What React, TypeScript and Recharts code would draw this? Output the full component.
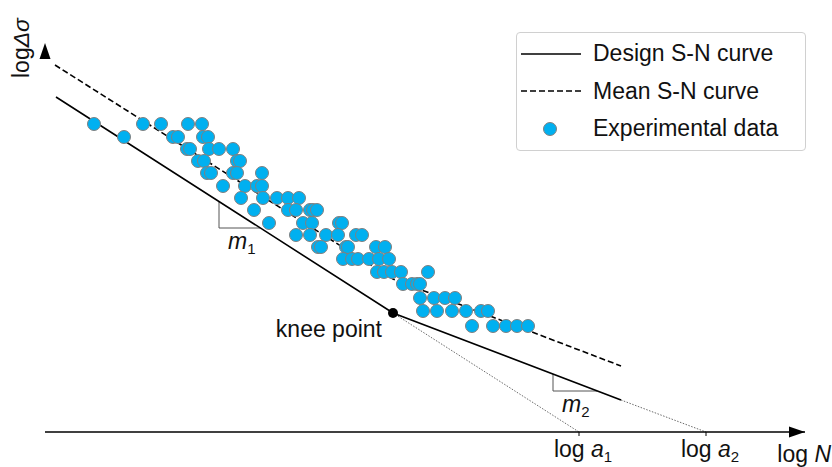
import React from "react";
import { ComposedChart, Line, Scatter, XAxis, YAxis, ReferenceDot, Legend } from "recharts";

const FONT = "'Liberation Sans', Arial, sans-serif";
const FS = 23;
const CYAN = "#00b0f0";

// plot units: n = log N (0..760), s = log Δσ (0..389)
const designCurve = [
  { n: 11, s: 335 },
  { n: 348, s: 119 },
  { n: 576, s: 32 },
];
const meanCurve = [
  { n: 10, s: 367 },
  { n: 348, s: 153 },
  { n: 576, s: 66 },
];
const extensionA1 = [
  { n: 348, s: 119 },
  { n: 534, s: 0 },
];
const extensionA2 = [
  { n: 576, s: 32 },
  { n: 661, s: 0 },
];
const slopeM1 = [
  { n: 174, s: 230 },
  { n: 174, s: 204 },
  { n: 215, s: 204 },
];
const slopeM2 = [
  { n: 508, s: 58 },
  { n: 508, s: 41 },
  { n: 552, s: 41 },
];
const knee = { n: 348, s: 119 };
const xTicks = [534, 661];
const xTickSubs: Record<number, string> = { 534: "1", 661: "2" };

// experimental points, one stress level per row
const expStress = [308, 295, 283, 271, 259, 246, 234, 222, 209, 197, 185, 173, 160, 148, 134, 121, 106];
const expCycles = [
  [49, 98, 116, 143, 157],
  [79, 128, 133, 158, 163],
  [142, 145, 164, 174, 188],
  [153, 159, 192, 195],
  [162, 166, 188, 192, 217],
  [178, 200, 212, 217],
  [196, 218, 232, 243, 254],
  [209, 243, 251, 265, 268, 272],
  [224, 258, 267, 294, 297],
  [251, 265, 281, 293, 311, 317],
  [273, 276, 301, 303, 331, 340],
  [298, 307, 313, 324, 334, 344],
  [332, 339, 347, 356, 383],
  [358, 367, 372, 375],
  [375, 389, 400, 410],
  [378, 392, 407, 421, 436, 443],
  [427, 448, 461, 472, 483],
];
const expData = expStress.flatMap((s, i) => expCycles[i].map((n) => ({ n, s })));

const legendItems = [
  { label: "Design S-N curve", kind: "solid" },
  { label: "Mean S-N curve", kind: "dashed" },
  { label: "Experimental data", kind: "dot" },
];

function LegendBox() {
  return (
    <div
      style={{
        border: "1px solid #d0d0d0",
        borderRadius: 4,
        background: "#fff",
        padding: "2px 0",
        width: 288,
        fontFamily: FONT,
        fontSize: FS,
        color: "#111",
      }}
    >
      {legendItems.map((it) => (
        <div key={it.label} style={{ display: "flex", alignItems: "center", height: 37.5 }}>
          <svg width={60} height={16} style={{ marginLeft: 4, marginRight: 12 }}>
            {it.kind === "dot" ? (
              <circle cx={29} cy={8} r={6.5} fill={CYAN} stroke="#808080" strokeWidth={1} />
            ) : (
              <line x1={0} y1={8} x2={60} y2={8} stroke="#000" strokeWidth={1.6} strokeDasharray={it.kind === "dashed" ? "6 3" : undefined} />
            )}
          </svg>
          <span>{it.label}</span>
        </div>
      ))}
    </div>
  );
}

function XTick({ x, y, payload }: any) {
  return (
    <text x={x + 4} y={y + 19} textAnchor="middle" fontFamily={FONT} fontSize={FS} fill="#111">
      <tspan>log </tspan>
      <tspan fontStyle="italic">a</tspan>
      <tspan fontSize={15} dy={5}>{xTickSubs[payload.value]}</tspan>
    </text>
  );
}

const dot = (p: any) => <circle cx={p.cx} cy={p.cy} r={6.5} fill={CYAN} stroke="#808080" strokeWidth={1} />;

export default function App() {
  return (
    <div style={{ position: "absolute", left: 0, top: 0, background: "#fff" }}>
      <ComposedChart width={832} height={467} margin={{ top: 43, right: 27, bottom: 0, left: 45 }}>
        <XAxis
          dataKey="n"
          type="number"
          domain={[0, 760]}
          ticks={xTicks}
          tick={<XTick />}
          tickSize={4}
          tickLine={{ stroke: "#000" }}
          axisLine={{ stroke: "#000", strokeWidth: 1.3 }}
          height={35}
          allowDataOverflow
        />
        <YAxis
          dataKey="s"
          type="number"
          domain={[0, 389]}
          width={0}
          tick={false}
          tickLine={false}
          axisLine={{ stroke: "#000", strokeWidth: 1.3 }}
          allowDataOverflow
        />
        <Legend layout="vertical" align="center" verticalAlign="middle" wrapperStyle={{ left: 516, top: 32, width: "auto", height: "auto" }} content={() => <LegendBox />} />

        {/* thin continuations down to the axis */}
        <Line data={extensionA1} dataKey="s" stroke="#444" strokeWidth={0.8} strokeDasharray="1.5 1.5" dot={false} activeDot={false} legendType="none" isAnimationActive={false} />
        <Line data={extensionA2} dataKey="s" stroke="#444" strokeWidth={0.8} strokeDasharray="1.5 1.5" dot={false} activeDot={false} legendType="none" isAnimationActive={false} />

        {/* slope triangles */}
        <Line data={slopeM1} dataKey="s" stroke="#555" strokeWidth={1} dot={false} activeDot={false} legendType="none" isAnimationActive={false} />
        <Line data={slopeM2} dataKey="s" stroke="#555" strokeWidth={1} dot={false} activeDot={false} legendType="none" isAnimationActive={false} />

        <Line data={designCurve} dataKey="s" name="Design S-N curve" stroke="#000" strokeWidth={1.6} dot={false} activeDot={false} isAnimationActive={false} />
        <Line data={meanCurve} dataKey="s" name="Mean S-N curve" stroke="#000" strokeWidth={1.6} strokeDasharray="6 3" dot={false} activeDot={false} isAnimationActive={false} />

        <Scatter data={expData} name="Experimental data" shape={dot} isAnimationActive={false} />

        <ReferenceDot
          x={knee.n}
          y={knee.s}
          ifOverflow="visible"
          shape={(p: any) => (
            <g>
              <circle cx={p.cx} cy={p.cy} r={5} fill="#000" />
              <text x={p.cx - 11} y={p.cy + 24} textAnchor="end" fontFamily={FONT} fontSize={FS} fill="#111">knee point</text>
            </g>
          )}
        />

        {[
          { c: slopeM1[1], sub: "1" },
          { c: slopeM2[1], sub: "2" },
        ].map(({ c, sub }) => (
          <ReferenceDot
            key={sub}
            x={c.n}
            y={c.s}
            ifOverflow="visible"
            shape={(p: any) => (
              <text x={p.cx + 9} y={p.cy + 21} fontFamily={FONT} fontSize={FS} fill="#111">
                <tspan fontStyle="italic">m</tspan>
                <tspan fontSize={15} dy={5}>{sub}</tspan>
              </text>
            )}
          />
        ))}

        {/* axis arrows and titles */}
        <ReferenceDot
          x={760}
          y={0}
          ifOverflow="visible"
          shape={(p: any) => (
            <g>
              <path d={`M${p.cx},${p.cy} L${p.cx - 16},${p.cy - 5.5} L${p.cx - 16},${p.cy + 5.5} Z`} fill="#000" />
              <text x={p.cx + 26} y={p.cy + 30} textAnchor="end" fontFamily={FONT} fontSize={FS} fill="#111">
                log <tspan fontStyle="italic">N</tspan>
              </text>
            </g>
          )}
        />
        <ReferenceDot
          x={0}
          y={389}
          ifOverflow="visible"
          shape={(p: any) => (
            <g>
              <path d={`M${p.cx},${p.cy} L${p.cx - 5.5},${p.cy + 16} L${p.cx + 5.5},${p.cy + 16} Z`} fill="#000" />
              <text
                x={p.cx - 16}
                y={p.cy + 5}
                textAnchor="middle"
                transform={`rotate(-90, ${p.cx - 16}, ${p.cy + 5})`}
                fontFamily={FONT}
                fontSize={FS}
                fill="#111"
              >
                log<tspan fontStyle="italic">Δσ</tspan>
              </text>
            </g>
          )}
        />
      </ComposedChart>
    </div>
  );
}
